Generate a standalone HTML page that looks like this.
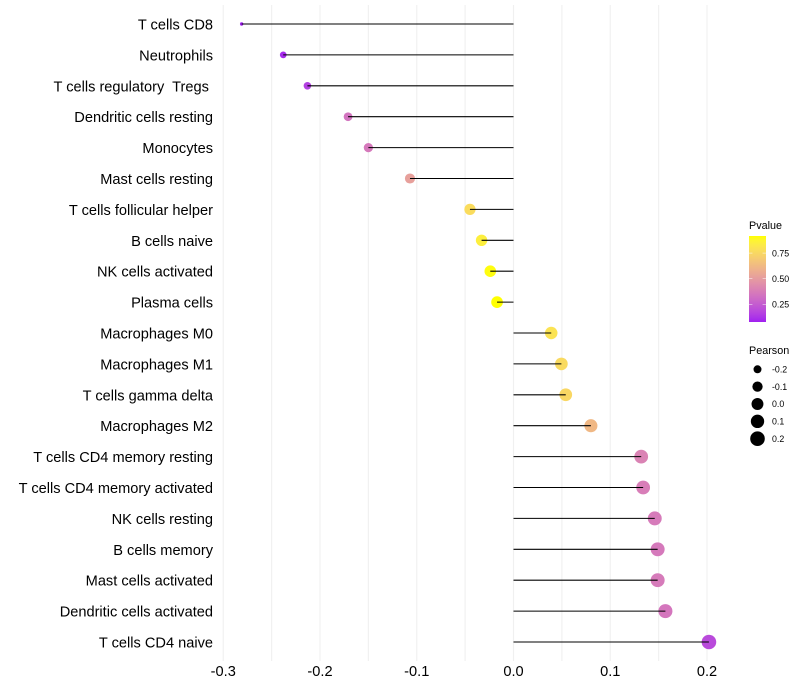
<!DOCTYPE html>
<html lang="en">
<head>
<meta charset="utf-8">
<title>Immune cell correlation lollipop chart</title>
<style>
html,body{margin:0;padding:0;background:#fff;width:800px;height:700px;overflow:hidden}
svg{display:block}
text{font-family:"Liberation Sans",Arial,sans-serif;white-space:pre}
</style>
</head>
<body>
<svg id="chart" xmlns="http://www.w3.org/2000/svg" width="800" height="700" viewBox="0 0 800 700" xml:space="preserve"></svg>
<script>
const categories = ["T cells CD8","Neutrophils","T cells regulatory  Tregs ","Dendritic cells resting","Monocytes","Mast cells resting","T cells follicular helper","B cells naive","NK cells activated","Plasma cells","Macrophages M0","Macrophages M1","T cells gamma delta","Macrophages M2","T cells CD4 memory resting","T cells CD4 memory activated","NK cells resting","B cells memory","Mast cells activated","Dendritic cells activated","T cells CD4 naive"];
const pearson = [-0.281,-0.238,-0.213,-0.171,-0.150,-0.107,-0.045,-0.033,-0.024,-0.017,0.039,0.0495,0.054,0.080,0.132,0.134,0.146,0.149,0.149,0.157,0.202];
const pvalues = [0.077,0.10,0.16,0.34,0.36,0.52,0.77,0.85,0.91,0.917,0.80,0.76,0.75,0.62,0.40,0.38,0.37,0.36,0.37,0.35,0.19];
const xTicks = [-0.3,-0.2,-0.1,0.0,0.1,0.2];
const xTickLabels = ["-0.3","-0.2","-0.1","0.0","0.1","0.2"];
const xGrid = [-0.3,-0.25,-0.2,-0.15,-0.1,-0.05,0,0.05,0.1,0.15,0.2];
const pvalueTicks = [0.25,0.5,0.75];
const pvalueTickLabels = ["0.25","0.50","0.75"];
const pearsonLegend = [-0.2,-0.1,0.0,0.1,0.2];
const pearsonLegendLabels = ["-0.2","-0.1","0.0","0.1","0.2"];

const NS = "http://www.w3.org/2000/svg";
const svg = document.getElementById("chart");
function make(tag, attrs, parent, text){
  const el = document.createElementNS(NS, tag);
  for (const k in attrs) el.setAttribute(k, attrs[k]);
  if (text !== undefined) el.textContent = text;
  (parent || svg).appendChild(el);
  return el;
}

// axis functions
const xScale = v => 513.5 + v * 967.5;
const yScale = i => 24 + i * 30.9;
const pMin = Math.min(...pvalues), pMax = Math.max(...pvalues);
const sMin = Math.min(...pearson), sMax = Math.max(...pearson);
const radius = v => 1.7 + 5.6 * Math.sqrt(Math.max(0, (v - sMin) / (sMax - sMin)));
const barY = p => 322 - (p - pMin) / (pMax - pMin) * 86;

// Lab interpolation purple -> yellow
function rgb2lab(c){
  let [r,g,b] = c.map(v => { v/=255; return v>0.04045 ? Math.pow((v+0.055)/1.055,2.4) : v/12.92; });
  let x=(0.4124*r+0.3576*g+0.1805*b)/0.95047, y=0.2126*r+0.7152*g+0.0722*b, z=(0.0193*r+0.1192*g+0.9505*b)/1.08883;
  const f=t=>t>0.008856?Math.cbrt(t):7.787*t+16/116;
  x=f(x);y=f(y);z=f(z);
  return [116*y-16,500*(x-y),200*(y-z)];
}
function lab2rgb(l){
  const y=(l[0]+16)/116,x=l[1]/500+y,z=y-l[2]/200;
  const f=t=>t*t*t>0.008856?t*t*t:(t-16/116)/7.787;
  const X=f(x)*0.95047,Y=f(y),Z=f(z)*1.08883;
  const lin=[3.2406*X-1.5372*Y-0.4986*Z,-0.9689*X+1.8758*Y+0.0415*Z,0.0557*X-0.2040*Y+1.0570*Z];
  return lin.map(v=>{v=v>0.0031308?1.055*Math.pow(v,1/2.4)-0.055:12.92*v;return Math.round(Math.min(1,Math.max(0,v))*255);});
}
const labLow = rgb2lab([160,32,240]), labHigh = rgb2lab([255,255,0]);
function colorAt(t){
  const c = lab2rgb(labLow.map((v,i)=>v+(labHigh[i]-v)*t));
  return "rgb("+c.join(",")+")";
}
const pColor = p => colorAt((p - pMin) / (pMax - pMin));

// background
const bg = make("rect",{x:0,y:0,width:800,height:700,fill:"#ffffff"});



// gridlines
const gridGroup = make("g",{});


xGrid.forEach(v => {
  const line = make("line",{x1:xScale(v),x2:xScale(v),y1:5,y2:661,stroke:"#f0f0f0","stroke-width":1.07},gridGroup);
  
  
});

// points then segments
const pointGroup = make("g",{});


const segGroup = make("g",{});


categories.forEach((c,i) => {
  const pt = make("circle",{cx:xScale(pearson[i]),cy:yScale(i),r:radius(pearson[i]),fill:pColor(pvalues[i])},pointGroup);
  
  
  const seg = make("line",{x1:xScale(0),x2:xScale(pearson[i]),y1:yScale(i),y2:yScale(i),stroke:"#000","stroke-width":1.07},segGroup);
  
  
  const lab = make("text",{x:213,y:yScale(i)+5.5,"text-anchor":"end","font-size":14.6,fill:"#000"},svg,c);
  
  
});

// x tick labels
xTicks.forEach((v,i) => {
  const t = make("text",{x:xScale(v),y:676,"text-anchor":"middle","font-size":14.6,fill:"#000"},svg,xTickLabels[i]);
  
  
});

// colour legend
const defs = make("defs",{});
const grad = make("linearGradient",{id:"pgrad",x1:0,y1:1,x2:0,y2:0},defs);
for (let s = 0; s <= 20; s++) make("stop",{offset:s/20,"stop-color":colorAt(s/20)},grad);
const pTitle = make("text",{x:749,y:229,"font-size":10.8,fill:"#000"},svg,"Pvalue");


const bar = make("rect",{x:749,y:236,width:17,height:86,fill:"url(#pgrad)"});


pvalueTicks.forEach((p,i) => {
  const y = barY(p);
  [[749,752.4],[762.6,766]].forEach(s => {
    const tk = make("line",{x1:s[0],x2:s[1],y1:y,y2:y,stroke:"#fff","stroke-width":0.6,"stroke-opacity":0.8});
    
    
  });
  const t = make("text",{x:772,y:y+3.2,"font-size":8.8,fill:"#000"},svg,pvalueTickLabels[i]);
  
  
});

// size legend
const sTitle = make("text",{x:749,y:354,"font-size":10.8,fill:"#000"},svg,"Pearson");


pearsonLegend.forEach((v,i) => {
  const y = 369.3 + i * 17.35;
  const d = make("circle",{cx:757.5,cy:y,r:radius(v),fill:"#000"});
  
  
  const t = make("text",{x:772,y:y+3.2,"font-size":8.8,fill:"#000"},svg,pearsonLegendLabels[i]);
  
  
});
</script>
</body>
</html>
